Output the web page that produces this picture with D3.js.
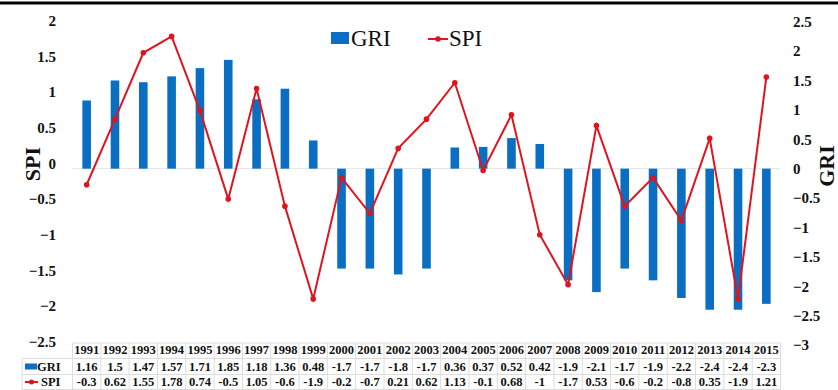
<!DOCTYPE html>
<html>
<head>
<meta charset="utf-8">
<script src="https://cdn.jsdelivr.net/npm/d3@7"></script>
<style>
  html, body { margin: 0; padding: 0; background: #fff; }
  svg { display: block; }
</style>
</head>
<body>
<svg id="chart" width="838" height="390"></svg>
<script>
// Annual series
const years = ["1991","1992","1993","1994","1995","1996","1997","1998","1999","2000","2001","2002","2003",
               "2004","2005","2006","2007","2008","2009","2010","2011","2012","2013","2014","2015"];
const gri = [1.16, 1.5, 1.47, 1.57, 1.71, 1.85, 1.18, 1.36, 0.48, -1.7, -1.7, -1.8, -1.7,
             0.36, 0.37, 0.52, 0.42, -1.9, -2.1, -1.7, -1.9, -2.2, -2.4, -2.4, -2.3];
const spi = [-0.3, 0.62, 1.55, 1.78, 0.74, -0.5, 1.05, -0.6, -1.9, -0.2, -0.7, 0.21, 0.62,
             1.13, -0.1, 0.68, -1, -1.7, 0.53, -0.6, -0.2, -0.8, 0.35, -1.9, 1.21];
const leftTicks = [2, 1.5, 1, 0.5, 0, -0.5, -1, -1.5, -2, -2.5];
const rightTicks = [2.5, 2, 1.5, 1, 0.5, 0, -0.5, -1, -1.5, -2, -2.5, -3];

const BLUE = "#0a6fc2";
const RED = "#e0141e";
const SERIF = "'Liberation Serif', 'Times New Roman', serif";

const svg = d3.select("#chart");

const x = d3.scaleBand().domain(years).range([72.5, 780.5]);
const yL = d3.scaleLinear().domain([-2.5, 2]).range([341.7, 20.7]);
const yR = d3.scaleLinear().domain([-3, 2.5]).range([345, 21.7]);
const cx = d => x(d) + x.bandwidth() / 2;
const barW = 8.6;

// top rule
svg.append("line").attr("x1", 0).attr("x2", 838).attr("y1", 3).attr("y2", 3)
  .attr("stroke", "#000").attr("stroke-width", 3);

// zero baseline
svg.append("line").attr("x1", 72.5).attr("x2", 780.5)
  .attr("y1", yR(0)).attr("y2", yR(0))
  .attr("stroke", "#e4e4e4").attr("stroke-width", 1);

// left axis (SPI)
const axL = svg.append("g").attr("transform", "translate(56,0)")
  .call(d3.axisLeft(yL).tickValues(leftTicks).tickSize(0).tickPadding(0).tickFormat(d3.format("")));
axL.select(".domain").remove();
axL.attr("font-family", SERIF);
axL.selectAll("text").attr("font-family", SERIF).attr("font-weight", "bold")
  .attr("font-size", 15).attr("fill", "#111");

// right axis (GRI)
const axR = svg.append("g").attr("transform", "translate(793,0)")
  .call(d3.axisRight(yR).tickValues(rightTicks).tickSize(0).tickPadding(0).tickFormat(d3.format("")));
axR.select(".domain").remove();
axR.attr("font-family", SERIF);
axR.selectAll("text").attr("font-family", SERIF).attr("font-weight", "bold")
  .attr("font-size", 15).attr("fill", "#111");

// axis titles
svg.append("text").attr("transform", "translate(40,164) rotate(-90)")
  .attr("text-anchor", "middle").attr("font-family", SERIF).attr("font-weight", "bold")
  .attr("font-size", 22).attr("fill", "#111").text("SPI");
svg.append("text").attr("transform", "translate(834,166) rotate(-90)")
  .attr("text-anchor", "middle").attr("font-family", SERIF).attr("font-weight", "bold")
  .attr("font-size", 22).attr("fill", "#111").text("GRI");

// GRI bars
svg.append("g").selectAll("rect").data(years).join("rect")
  .attr("x", d => cx(d) - barW / 2)
  .attr("width", barW)
  .attr("y", (d, i) => Math.min(yR(0), yR(gri[i])))
  .attr("height", (d, i) => Math.abs(yR(gri[i]) - yR(0)))
  .attr("fill", BLUE);

// SPI line
const line = d3.line().x((d, i) => cx(years[i])).y(d => yL(d));
svg.append("path").datum(spi).attr("d", line)
  .attr("fill", "none").attr("stroke", RED).attr("stroke-width", 2)
  .attr("stroke-linejoin", "miter");
svg.append("g").selectAll("circle").data(spi).join("circle")
  .attr("cx", (d, i) => cx(years[i])).attr("cy", d => yL(d)).attr("r", 2.8)
  .attr("fill", RED);

// legend
const lg = svg.append("g");
lg.append("rect").attr("x", 331).attr("y", 32).attr("width", 18).attr("height", 12).attr("fill", BLUE);
lg.append("text").attr("x", 351).attr("y", 46).attr("font-family", SERIF)
  .attr("font-size", 23).attr("fill", "#111").text("GRI");
lg.append("line").attr("x1", 428).attr("x2", 448).attr("y1", 39).attr("y2", 39)
  .attr("stroke", RED).attr("stroke-width", 2);
lg.append("circle").attr("cx", 438).attr("cy", 39).attr("r", 2.8).attr("fill", RED);
lg.append("text").attr("x", 449).attr("y", 46).attr("font-family", SERIF)
  .attr("font-size", 23).attr("fill", "#111").text("SPI");

// data table
const rowY = [350, 366.5, 382];
const grid = svg.append("g").attr("stroke", "#dcdcdc").attr("stroke-width", 1);
[358.5, 374.5].forEach(yy => {
  grid.append("line").attr("x1", 22).attr("x2", 780.5).attr("y1", yy).attr("y2", yy);
});
grid.append("line").attr("x1", 72.5).attr("x2", 780.5).attr("y1", 343).attr("y2", 343);
grid.append("line").attr("x1", 22).attr("x2", 780.5).attr("y1", 389.5).attr("y2", 389.5);
years.forEach(d => {
  grid.append("line").attr("x1", x(d)).attr("x2", x(d)).attr("y1", 343).attr("y2", 390);
});
grid.append("line").attr("x1", 780.5).attr("x2", 780.5).attr("y1", 343).attr("y2", 390);
grid.append("line").attr("x1", 22).attr("x2", 22).attr("y1", 358.5).attr("y2", 390);

const tableText = (xx, yy, t) => svg.append("text").attr("x", xx).attr("y", yy)
  .attr("dy", "0.35em").attr("text-anchor", "middle").attr("font-family", SERIF)
  .attr("font-weight", "bold").attr("font-size", 12.5).attr("fill", "#111").text(t);

years.forEach((d, i) => {
  tableText(cx(d), rowY[0], d);
  tableText(cx(d), rowY[1], String(gri[i]));
  tableText(cx(d), rowY[2], String(spi[i]));
});

// table row keys
svg.append("rect").attr("x", 25).attr("y", rowY[1] - 3).attr("width", 12).attr("height", 6).attr("fill", BLUE);
svg.append("text").attr("x", 37).attr("y", rowY[1]).attr("dy", "0.35em")
  .attr("font-family", SERIF).attr("font-weight", "bold").attr("font-size", 12.5)
  .attr("fill", "#111").text("GRI");
svg.append("line").attr("x1", 25).attr("x2", 38).attr("y1", rowY[2]).attr("y2", rowY[2])
  .attr("stroke", RED).attr("stroke-width", 2);
svg.append("circle").attr("cx", 31.5).attr("cy", rowY[2]).attr("r", 2.5).attr("fill", RED);
svg.append("text").attr("x", 41).attr("y", rowY[2]).attr("dy", "0.35em")
  .attr("font-family", SERIF).attr("font-weight", "bold").attr("font-size", 12.5)
  .attr("fill", "#111").text("SPI");
</script>
</body>
</html>
